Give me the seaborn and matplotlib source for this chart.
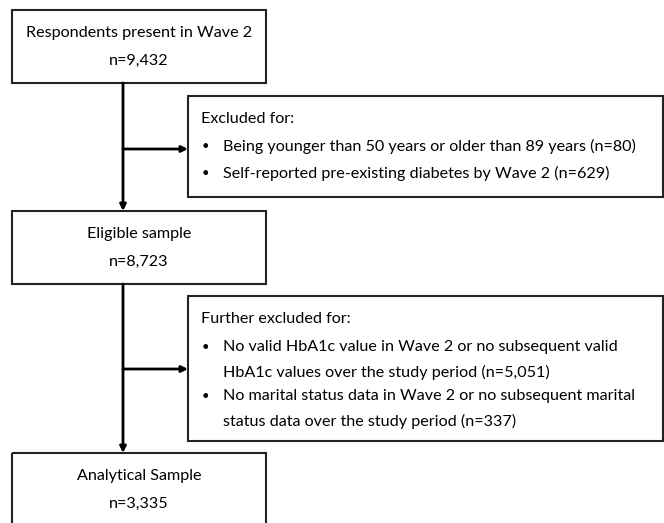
import matplotlib
matplotlib.use("Agg")
import matplotlib.pyplot as plt
import seaborn as sns
from matplotlib.patches import Rectangle

# Flowchart content
stage_titles = ["Respondents present in Wave 2", "Eligible sample", "Analytical Sample"]
stage_counts = ["n=9,432", "n=8,723", "n=3,335"]

excl_headers = ["Excluded for:", "Further excluded for:"]
excl_items = [
    ["Being younger than 50 years or older than 89 years (n=80)",
     "Self-reported pre-existing diabetes by Wave 2 (n=629)"],
    ["No valid HbA1c value in Wave 2 or no subsequent valid\nHbA1c values over the study period (n=5,051)",
     "No marital status data in Wave 2 or no subsequent marital\nstatus data over the study period (n=337)"],
]

sns.set_theme(style="white")
plt.rcParams['font.family'] = ['Lato', 'DejaVu Sans']

fig = plt.figure(figsize=(6.64, 5.23), dpi=100)
ax = fig.add_axes([0, 0, 1, 1])
ax.set_xlim(0, 664)
ax.set_ylim(523, 0)
ax.axis("off")

fs = 11.6
edge = "#222222"

# main boxes: (top, bottom)
main_boxes = [(10, 83), (211, 284), (453, 540)]
box_left, box_right = 12, 266
cx = (box_left + box_right) / 2
for (top, bot), title, count in zip(main_boxes, stage_titles, stage_counts):
    ax.add_patch(Rectangle((box_left, top), box_right - box_left, bot - top,
                           fill=False, ec=edge, lw=1.5))
    ax.text(cx, top + 23, title, ha="center", va="center", fontsize=fs, color="black")
    ax.text(cx, top + 51, count, ha="center", va="center", fontsize=fs, color="black")

# exclusion boxes
side_boxes = [(96, 197), (296, 441)]
side_left, side_right = 188, 663
arrow_y = [149, 369]
header_y = [119, 319]
item_y = [[146, 173], [347, 396]]
line_gap = 25
for (top, bot), hdr, items, ay, hy, iys in zip(side_boxes, excl_headers, excl_items,
                                                arrow_y, header_y, item_y):
    ax.add_patch(Rectangle((side_left, top), side_right - side_left, bot - top,
                           fill=False, ec=edge, lw=1.5))
    ax.text(201, hy, hdr, ha="left", va="center", fontsize=fs, color="black")
    for it, iy in zip(items, iys):
        ax.text(202, iy, "\u2022", ha="left", va="center", fontsize=fs * 0.8, color="black")
        for k, ln in enumerate(it.split("\n")):
            ax.text(223, iy + k * line_gap, ln, ha="left", va="center",
                    fontsize=fs, color="black")
    # side arrow
    ax.annotate("", xy=(side_left, ay), xytext=(123, ay),
                arrowprops=dict(arrowstyle="-|>", color="black", lw=2,
                                mutation_scale=9, shrinkA=0, shrinkB=0))

# vertical arrows
line_x = 123
for (t0, b0), (t1, b1) in zip(main_boxes[:-1], main_boxes[1:]):
    ax.annotate("", xy=(line_x, t1), xytext=(line_x, b0),
                arrowprops=dict(arrowstyle="-|>", color="black", lw=2,
                                mutation_scale=9, shrinkA=0, shrinkB=0))

fig.savefig("out.png", dpi=100, facecolor="white")
